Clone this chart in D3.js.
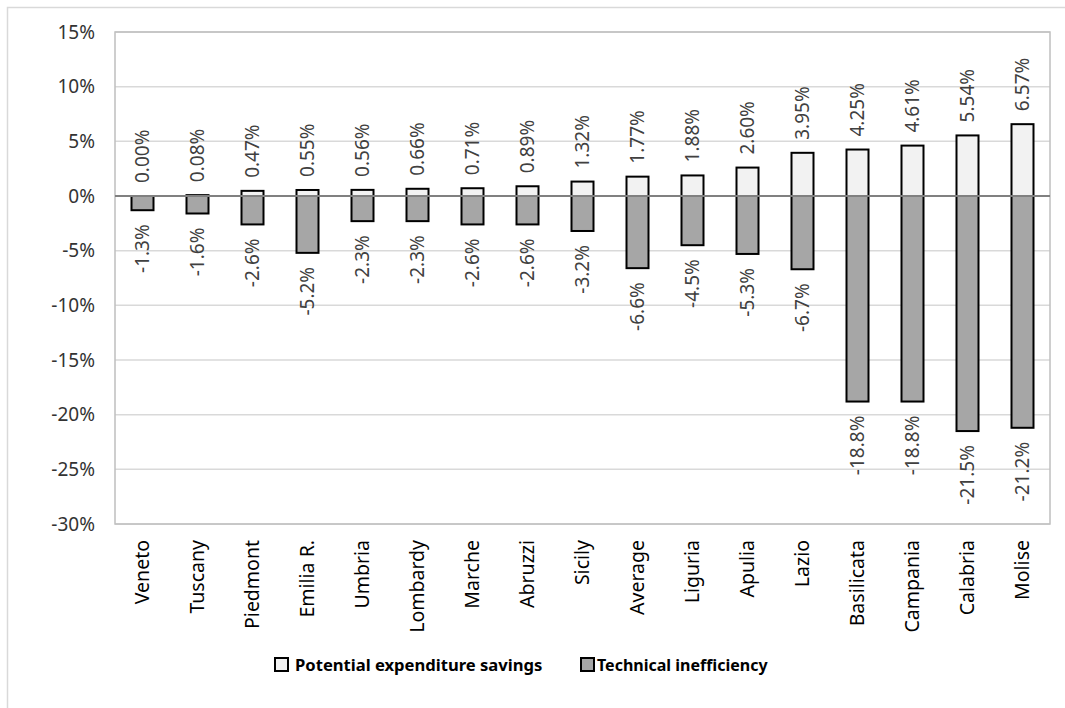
<!DOCTYPE html>
<html>
<head>
<meta charset="utf-8">
<script src="https://cdn.jsdelivr.net/npm/d3@7"></script>
<style>
  body { margin: 0; background: #fff; }
  text { font-family: "Noto Sans", "Open Sans", sans-serif; }
</style>
</head>
<body>
<div id="chart"></div>
<script>
// Regions, in chart order
var regions = ["Veneto", "Tuscany", "Piedmont", "Emilia R.", "Umbria", "Lombardy", "Marche",
  "Abruzzi", "Sicily", "Average", "Liguria", "Apulia", "Lazio", "Basilicata", "Campania",
  "Calabria", "Molise"];

// Potential expenditure savings (%)
var savings = [0.00, 0.08, 0.47, 0.55, 0.56, 0.66, 0.71, 0.89, 1.32, 1.77, 1.88, 2.60,
  3.95, 4.25, 4.61, 5.54, 6.57];

// Technical inefficiency (%)
var inefficiency = [-1.3, -1.6, -2.6, -5.2, -2.3, -2.3, -2.6, -2.6, -3.2, -6.6, -4.5, -5.3,
  -6.7, -18.8, -18.8, -21.5, -21.2];

// Y axis ticks (%)
var yTicks = [15, 10, 5, 0, -5, -10, -15, -20, -25, -30];

var seriesNames = ["Potential expenditure savings", "Technical inefficiency"];
var seriesColors = ["#f2f2f2", "#a6a6a6"];

var svgWidth = 1065;
var svgHeight = 708;

var plot = { left: 115, right: 1050, top: 32, bottom: 524 };

var svg = d3.select("#chart")
    .append("svg")
    .attr("width", svgWidth)
    .attr("height", svgHeight);

// Outer chart border (only top and left visible)
svg.append("rect")
    .attr("x", 7.5)
    .attr("y", 7.5)
    .attr("width", svgWidth)
    .attr("height", svgHeight)
    .attr("fill", "none")
    .attr("stroke", "#d9d9d9")
    .attr("stroke-width", 1.5);

// Scales
var x = d3.scaleBand()
    .domain(regions)
    .range([plot.left, plot.right])
    .padding(0);

var y = d3.scaleLinear()
    .domain([-30, 15])
    .range([plot.bottom, plot.top]);

var barWidth = 22;

// Gridlines
svg.append("g")
    .selectAll("line")
    .data(yTicks.filter(d => d !== 0))
    .enter()
    .append("line")
    .attr("x1", plot.left)
    .attr("x2", plot.right)
    .attr("y1", d => y(d))
    .attr("y2", d => y(d))
    .attr("stroke", "#d9d9d9")
    .attr("stroke-width", 1.5);

// Plot area border
svg.append("rect")
    .attr("x", plot.left)
    .attr("y", plot.top)
    .attr("width", plot.right - plot.left)
    .attr("height", plot.bottom - plot.top)
    .attr("fill", "none")
    .attr("stroke", "#bfbfbf")
    .attr("stroke-width", 1.5);

// Y axis labels
var leftAxis = d3.axisLeft(y)
    .tickValues(yTicks)
    .tickSize(0)
    .tickPadding(20)
    .tickFormat(d => d + "%");

var yAxisGroup = svg.append("g")
    .attr("transform", `translate(${plot.left}, 0)`)
    .call(leftAxis);
yAxisGroup.select(".domain").remove();
yAxisGroup.selectAll("text")
    .attr("font-family", "Noto Sans")
    .attr("font-size", "19px")
    .attr("fill", "#333");

// Bars
var ineffBars = svg.append("g")
    .selectAll("rect")
    .data(regions)
    .enter()
    .append("rect")
    .attr("x", d => x(d) + x.bandwidth() / 2 - barWidth / 2)
    .attr("y", y(0))
    .attr("width", barWidth)
    .attr("height", (d, i) => y(inefficiency[i]) - y(0))
    .attr("fill", seriesColors[1])
    .attr("stroke", "#000")
    .attr("stroke-width", 2);

var saveBars = svg.append("g")
    .selectAll("rect")
    .data(regions)
    .enter()
    .append("rect")
    .attr("x", d => x(d) + x.bandwidth() / 2 - barWidth / 2)
    .attr("y", (d, i) => y(savings[i]))
    .attr("width", barWidth)
    .attr("height", (d, i) => y(0) - y(savings[i]))
    .attr("fill", seriesColors[0])
    .attr("stroke", "#000")
    .attr("stroke-width", 2)
    .style("display", (d, i) => savings[i] === 0 ? "none" : null);

// Zero line
svg.append("line")
    .attr("x1", plot.left)
    .attr("x2", plot.right)
    .attr("y1", y(0))
    .attr("y2", y(0))
    .attr("stroke", "#808080")
    .attr("stroke-width", 2);

// Data labels
svg.append("g")
    .selectAll("text")
    .data(regions)
    .enter()
    .append("text")
    .attr("transform", (d, i) => `translate(${x(d) + x.bandwidth() / 2}, ${y(savings[i]) - 13}) rotate(-90)`)
    .attr("dy", "0.35em")
    .attr("text-anchor", "start")
    .attr("font-size", "19px")
    .attr("fill", "#404040")
    .text((d, i) => savings[i].toFixed(2) + "%");

svg.append("g")
    .selectAll("text")
    .data(regions)
    .enter()
    .append("text")
    .attr("transform", (d, i) => `translate(${x(d) + x.bandwidth() / 2}, ${y(inefficiency[i]) + 14}) rotate(-90)`)
    .attr("dy", "0.35em")
    .attr("text-anchor", "end")
    .attr("font-size", "19px")
    .attr("fill", "#404040")
    .text((d, i) => inefficiency[i].toFixed(1) + "%");

// Category labels
svg.append("g")
    .selectAll("text")
    .data(regions)
    .enter()
    .append("text")
    .attr("transform", d => `translate(${x(d) + x.bandwidth() / 2}, ${plot.bottom + 16}) rotate(-90)`)
    .attr("dy", "0.35em")
    .attr("text-anchor", "end")
    .attr("font-size", "19.5px")
    .attr("fill", "#000")
    .text(d => d);

// Legend
var legendX = [275, 581];
var legend = svg.append("g")
    .selectAll("g")
    .data(seriesNames)
    .enter()
    .append("g")
    .attr("transform", (d, i) => `translate(${legendX[i]}, 658)`);

legend.append("rect")
    .attr("width", 13)
    .attr("height", 13)
    .attr("fill", (d, i) => seriesColors[i])
    .attr("stroke", "#000")
    .attr("stroke-width", 2);

legend.append("text")
    .attr("x", (d, i) => i === 0 ? 20 : 16)
    .attr("y", 7)
    .attr("dy", "0.35em")
    .attr("font-size", (d, i) => i === 0 ? "16.6px" : "16px")
    .attr("font-weight", "bold")
    .attr("fill", "#000")
    .text(d => d);
</script>
</body>
</html>
